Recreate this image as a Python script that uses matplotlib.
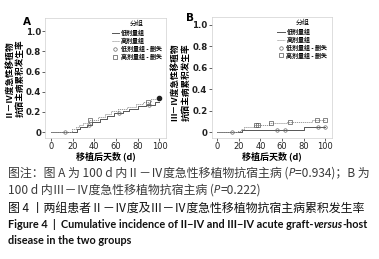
import numpy as np
import matplotlib
matplotlib.use("Agg")
import matplotlib.pyplot as plt

plt.rcParams['font.family'] = ['Noto Sans CJK SC', 'DejaVu Sans']

# panel A: grade II-IV
a_low_t = [0, 24, 27, 33, 38, 45, 52, 58, 66, 72, 80, 88, 96]
a_low_v = [0, 0.03, 0.05, 0.07, 0.10, 0.13, 0.16, 0.19, 0.21, 0.23, 0.26, 0.27, 0.30]
a_low_cens = [13, 35, 63, 90]
a_high_t = [0, 19, 23, 26, 30, 35, 43, 50, 55, 62, 70, 78, 85, 92]
a_high_v = [0, 0.03, 0.05, 0.07, 0.09, 0.12, 0.15, 0.18, 0.21, 0.23, 0.25, 0.28, 0.30, 0.33]
a_high_cens = [36, 89]
a_end = 0.34

# panel B: grade III-IV
b_low_t = [0, 23, 80]
b_low_v = [0, 0.02, 0.045]
b_low_cens = [14, 55, 63, 93, 100]
b_high_t = [0, 19, 22, 25, 34, 48, 65, 88]
b_high_v = [0, 0.01, 0.03, 0.05, 0.065, 0.08, 0.09, 0.11]
b_high_cens = [36, 38, 50, 67, 92, 100]

groups = ['低剂量组', '高剂量组', '低剂量组 - 删失', '高剂量组 - 删失']
xticks = [0, 20, 40, 60, 80, 100]
yticks = [0, 0.2, 0.4, 0.6, 0.8, 1.0]
yticklabels = ['0', '0.2', '0.4', '0.6', '0.8', '1.0']

fig = plt.figure(figsize=(3.79, 2.59), dpi=100)
axA = fig.add_axes([0.120, 0.467, 0.318, 0.463])
axB = fig.add_axes([0.559, 0.467, 0.316, 0.467])

def at(t, v, x):
    i = np.searchsorted(t, x, side='right') - 1
    return v[i]

def panel(ax, lt, lv, lc, ht, hv, hc, ylim, ylabel, letter, label_pos, letter_pos, end=None):
    lt2 = lt + [100]; lv2 = lv + [lv[-1]]
    ht2 = ht + [100]; hv2 = hv + [hv[-1]]
    ax.step(lt2, lv2, where='post', color='#555555', lw=0.7, label=groups[0])
    ax.step(ht2, hv2, where='post', color='#9a9a9a', lw=0.7, ls=(0, (1.2, 0.8)), label=groups[1])
    ax.plot(lc, [at(lt, lv, c) for c in lc], 'o', ms=2.5, mfc='none', mec='#666666', mew=0.5, label=groups[2])
    ax.plot(hc, [at(ht, hv, c) for c in hc], 's', ms=2.5, mfc='none', mec='#555555', mew=0.5, label=groups[3])
    if end is not None:
        ax.plot([100], [end], 'o', ms=3, color='#222222')
    ax.set_xlim(-5, 106)
    ax.set_ylim(*ylim)
    ax.set_xticks(xticks)
    ax.set_xticklabels([str(x) for x in xticks], fontsize=6, family=['DejaVu Sans'])
    ax.set_yticks(yticks)
    ax.set_yticklabels(yticklabels, fontsize=6.2, fontweight='bold', family=['DejaVu Sans'])
    ax.tick_params(length=2, width=0.5, pad=1.2, colors='#222222')
    for s in ax.spines.values():
        s.set_color('#d0d0d0')
        s.set_linewidth(0.5)
    ax.set_xlabel('移植后天数 (d)', fontsize=6.5, labelpad=0, fontweight='bold')
    ax.set_ylabel(ylabel, fontsize=6.2, fontweight='bold', linespacing=1.35)
    ax.yaxis.set_label_coords(*label_pos)
    ax.text(letter_pos[0], letter_pos[1], letter, transform=ax.transAxes, fontsize=7.5,
            fontweight='bold', va='top', family=['DejaVu Sans'])
    leg = ax.legend(loc='upper right', bbox_to_anchor=(1.0, 1.02), fontsize=4.3, title='分组',
                    title_fontsize=5, frameon=False, handlelength=1.2, handletextpad=0.3,
                    labelspacing=0.15, borderpad=0.2)
    for t in leg.get_texts():
        t.set_fontweight('bold')

panel(axA, a_low_t, a_low_v, a_low_cens, a_high_t, a_high_v, a_high_cens,
      (-0.06, 1.13), 'Ⅱ－Ⅳ度急性移植物\n抗宿主病累积发生率', 'A', (-0.175, 0.5), (-0.19, 1.01),
      end=a_end)
panel(axB, b_low_t, b_low_v, b_low_cens, b_high_t, b_high_v, b_high_cens,
      (-0.056, 1.07), 'Ⅲ－Ⅳ度急性移植物\n抗宿主病累积发生率', 'B', (-0.175, 0.465), (-0.215, 1.035))

# caption
renderer = fig.canvas.get_renderer()
cap_color = '#3a3a3a'

def line_pieces(y, pieces, x0=8):
    x = x0
    for txt, kw in pieces:
        t = fig.text(x / 379, 1 - y / 259, txt, va='center', **kw)
        bb = t.get_window_extent(renderer)
        x = bb.x1

base = dict(fontsize=8.6, color=cap_color)
pit = dict(base, style='italic', family=['DejaVu Sans'], fontsize=7.5)
line_pieces(173, [('图注：图 A 为 100 d 内Ⅱ－Ⅳ度急性移植物抗宿主病 (', base),
                  ('P', pit), ('=0.934)；B 为', base)])
line_pieces(190, [('100 d 内Ⅲ－Ⅳ度急性移植物抗宿主病 (', base),
                  ('P', pit), ('=0.222)', base)])
line_pieces(208, [('图 4 丨两组患者Ⅱ－Ⅳ度及Ⅲ－Ⅳ度急性移植物抗宿主病累积发生率',
                   dict(fontsize=8.6, color='#111111'))])
en = dict(fontsize=7.8, color='#111111', family=['Lato'], fontweight='bold')
line_pieces(224, [('Figure 4  |  Cumulative incidence of II−IV and III−IV acute graft-', en),
                  ('versus', dict(en, style='italic')),
                  ('-host', en)])
line_pieces(240, [('disease in the two groups', en)])

fig.savefig('out.png', dpi=100)
